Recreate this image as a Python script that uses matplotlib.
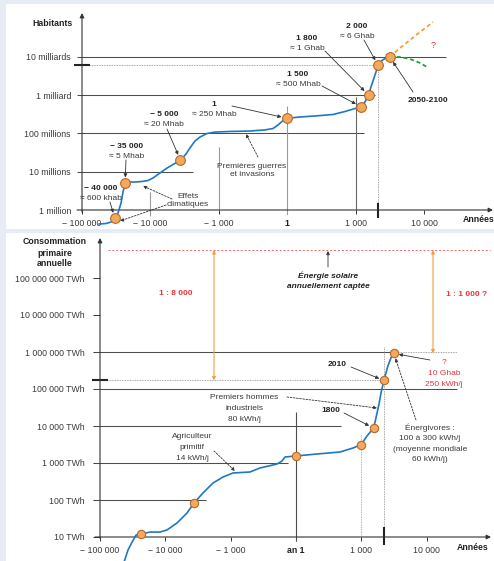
import numpy as np
import matplotlib
matplotlib.use("Agg")
import matplotlib.pyplot as plt
from matplotlib import transforms as mtransforms
from matplotlib.ticker import NullLocator

plt.rcParams["font.family"] = ["Liberation Sans", "DejaVu Sans"]

# ---------------------------------------------------------------- data
# population (inhabitants)
POP_MARK_YEARS = [-40000, -35000, -5000, 1, 1500, 1800, 2000, 2100]
POP_MARK_VALUES = [6e5, 5e6, 2e7, 2.5e8, 5e8, 1e9, 6e9, 1e10]

POP_CURVE_YEARS = [-62000, -51000, -44500, -40000, -38370, -36900, -35950, -35000,
                   -28800, -21400, -15200, -11300, -9420, -8020, -6820, -5810, -5000,
                   -3970, -3360, -2720, -2200, -1640, -1175, -836, -544, -325, -207,
                   -134, -76, 1, 3.6, 16.6, 102, 343, 942, 1500, 1648, 1800, 1847,
                   1910, 2000, 2032, 2066, 2100]
POP_CURVE_VALUES = [4.3e5, 4.44e5, 4.85e5, 6e5, 8.4e5, 1.52e6, 2.96e6, 5e6,
                    5.4e6, 5.4e6, 5.56e6, 5.9e6, 6.87e6, 9.27e6, 1.25e7, 1.6e7, 2e7,
                    2.91e7, 4.18e7, 6.37e7, 8.1e7, 1.0e8, 1.09e8, 1.13e8, 1.16e8, 1.24e8, 1.35e8,
                    1.67e8, 2.06e8, 2.5e8, 2.7e8, 2.87e8, 3.14e8, 3.76e8, 4.5e8, 5e8, 6.67e8, 1e9, 1.64e9,
                    2.83e9, 6e9, 8.1e9, 9.4e9, 1e10]

HIGH_YEARS = [2100, 3340, 5270, 8330, 13550]
HIGH_VALUES = [1e10, 1.72e10, 2.78e10, 4.5e10, 8.2e10]
LOW_YEARS = [2100, 3340, 5270, 8330, 11070]
LOW_VALUES = [1e10, 1e10, 8.9e9, 6.97e9, 5.48e9]

POP_NOW_YEAR = 2000
POP_NOW = 6e9

# primary energy consumption (TWh per year)
FUTURE_PEOPLE = 10e9
FUTURE_KWH_PER_DAY = 250
FUTURE_TWH = FUTURE_PEOPLE * FUTURE_KWH_PER_DAY * 365 / 1e9

NRJ_MARK_YEARS = [-35000, -5000, 1, 1000, 1800, 2010, 2100]
NRJ_MARK_VALUES = [12, 83, 1550, 3160, 8830, 1.7e5, FUTURE_TWH]

NRJ_CURVE_YEARS = [-49500, -44000, -39600, -37500, -35000, -22100, -13150, -9600, -7540,
                   -5920, -5000, -3370, -2170, -1400, -963, -703, -550, -288, -212, -166,
                   1, 9.3, 106, 419, 1000, 1522, 1800, 1849, 1916, 1960, 2010, 2046, 2073, 2100]
NRJ_CURVE_VALUES = [2.1, 4.5, 7.3, 11.3, 12, 13.6, 13.6, 15.5, 23.9,
                    44.6, 83, 155, 288, 418, 537, 571, 733, 940, 1133, 1452,
                    1550, 1750, 1982, 2540, 3160, 5370, 8830, 16400, 39300, 78000, 1.7e5, 4.19e5, 6.89e5, FUTURE_TWH]

NRJ_NOW_YEAR = 2010
NRJ_NOW = 1.7e5
SOLAR_TWH = 5.7e8

YEAR_TICKS = [-100000, -10000, -1000, 1, 1000, 10000]
TOP_YEAR_LABELS = ["\u2212 100 000", "\u2212 10 000", "\u2212 1 000", "1", "1 000", "10 000"]
BOT_YEAR_LABELS = ["\u2212 100 000", "\u2212 10 000", "\u2212 1 000", "an 1", "1 000", "10 000"]
POP_TICKS = [1e6, 1e7, 1e8, 1e9, 1e10]
POP_LABELS = ["1 million", "10 millions", "100 millions", "1 milliard", "10 milliards"]
NRJ_TICKS = [1e1, 1e2, 1e3, 1e4, 1e5, 1e6, 1e7, 1e8]
NRJ_LABELS = ["10 TWh", "100 TWh", "1 000 TWh", "10 000 TWh", "100 000 TWh",
              "1 000 000 TWh", "10 000 000 TWh", "100 000 000 TWh"]

# ---------------------------------------------------------------- hand-drawn time axis
SCALE_YEARS = np.array([-1e7, -100000, -40000, -35000, -10000, -5000, -1000,
                        1, 1000, 1500, 1800, 2000, 2100, 10000, 1e6])
SCALE_POS = np.array([-2, 0, 0.48, 0.63, 1, 1.44, 2, 3, 4, 4.08, 4.19, 4.33, 4.5, 5, 7])


def _year_to_u(y):
    y = np.asarray(y, dtype=float)
    u_neg = -np.log10(-np.minimum(y, -1000.0))
    u_mid = -3.0 + 3.0 * (y + 1000.0) / 1001.0
    u_pos = np.log10(np.maximum(y, 1.0))
    return np.where(y <= -1000, u_neg, np.where(y >= 1, u_pos, u_mid))


def _u_to_year(u):
    u = np.asarray(u, dtype=float)
    y_neg = -10 ** (-np.minimum(u, -3.0))
    y_mid = (u + 3.0) * 1001.0 / 3.0 - 1000.0
    y_pos = 10 ** np.maximum(u, 0.0)
    return np.where(u <= -3, y_neg, np.where(u >= 0, y_pos, y_mid))


SCALE_U = _year_to_u(SCALE_YEARS)


def year_fwd(y):
    return np.interp(_year_to_u(y), SCALE_U, SCALE_POS)


def year_inv(p):
    return _u_to_year(np.interp(np.asarray(p, dtype=float), SCALE_POS, SCALE_U))


# ---------------------------------------------------------------- figure
W, H, DPI = 494, 561, 100
fig = plt.figure(figsize=(W / DPI, H / DPI), dpi=DPI, facecolor="#e7ebf3")
PX = mtransforms.Affine2D().scale(1 / W, -1 / H).translate(0, 1) + fig.transFigure

FS = 6.3
FA = 6.0
TXT = "#3a3a3a"
DARK = "#222222"
GRID = "#4d4d4d"
LGRAY = "#9a9a9a"
BLUE = "#1f78c1"
ORANGE = "#f2a13a"
RED = "#e8343c"
GREEN = "#1f9e4a"
MFACE = "#f3a85c"
MEDGE = "#b5692a"


def panel(x0, y0, x1, y1, pos_lim, log_lim):
    ax = fig.add_axes([x0 / W, 1 - y1 / H, (x1 - x0) / W, (y1 - y0) / H])
    ax.set_facecolor("white")
    ax.set_xscale("function", functions=(year_fwd, year_inv))
    ax.set_yscale("log")
    ax.set_xlim(float(year_inv(pos_lim[0])), float(year_inv(pos_lim[1])))
    ax.set_ylim(10 ** log_lim[0], 10 ** log_lim[1])
    ax.autoscale(False)
    for s in ax.spines.values():
        s.set_visible(False)
    ax.xaxis.set_minor_locator(NullLocator())
    ax.yaxis.set_minor_locator(NullLocator())
    return ax


def xpx(ax, year):
    return ax.transData.transform((year, 1.0))[0]


def ypx(ax, val):
    return H - ax.transData.transform((1.0, val))[1]


def seg(ax, x0, y0, x1, y1, **kw):
    kw.setdefault("color", GRID)
    kw.setdefault("lw", 0.75)
    ax.plot([x0, x1], [y0, y1], transform=PX, clip_on=False, solid_capstyle="butt", **kw)


def text(x, y, s, size=FA, weight="normal", color=TXT, style="normal", ha="center"):
    fig.text(x, y, s, transform=PX, ha=ha, va="center_baseline", fontsize=size,
             fontweight=weight, color=color, fontstyle=style)


def pointer(ax, xy, start, coords="data", dashed=False, color="#333333", shrink=4.2):
    ax.annotate("", xy=xy, xycoords=coords, xytext=start, textcoords=PX,
                annotation_clip=False,
                arrowprops=dict(arrowstyle="-|>", color=color, lw=0.6, mutation_scale=5,
                                shrinkA=0, shrinkB=shrink,
                                linestyle=(0, (2.2, 1.6)) if dashed else "-"))


def axis_arrow(ax, p0, p1, color="#333333"):
    ax.annotate("", xy=p1, xycoords=PX, xytext=p0, textcoords=PX, annotation_clip=False,
                arrowprops=dict(arrowstyle="-|>", color=color, lw=0.8, mutation_scale=6.5,
                                shrinkA=0, shrinkB=0))


# ================================================================ population panel
ax1 = panel(6, 4, 494, 229, ((6 - 82) / 68.4, (494 - 82) / 68.4),
            (6 - 19 / 38.25, 6 + 206 / 38.25))

ax1.spines["bottom"].set_position(("data", 1e6))
ax1.spines["left"].set_position(("data", -100000))
ax1.set_xticks(YEAR_TICKS, TOP_YEAR_LABELS)
ax1.set_yticks(POP_TICKS, POP_LABELS)
ax1.tick_params(axis="x", length=3, width=0.7, color="#333333", pad=3.4,
                labelsize=FS, labelcolor=TXT)
ax1.tick_params(axis="y", length=0, pad=8, labelsize=FS, labelcolor=TXT)
for lab in ax1.get_xticklabels():
    if lab.get_text() == "1":
        lab.set_fontweight("bold")
        lab.set_color(DARK)

x_axis1 = xpx(ax1, -100000)
y_axis1 = ypx(ax1, 1e6)

# horizontal reference lines
for val, right in zip(POP_TICKS[1:], [193, 364, 375, 446]):
    y = ypx(ax1, val)
    seg(ax1, x_axis1 - 5, y, right, y)

# vertical guides
for yr, top, bot, col in [(-10000, 192, 216, LGRAY), (-1000, 147, y_axis1, LGRAY),
                          (1, 106, 214, LGRAY), (1000, 97, y_axis1, "#6a6a6a")]:
    x = xpx(ax1, yr)
    seg(ax1, x, top, x, bot, color=col, lw=0.8)

# present-day markers
y_now = ypx(ax1, POP_NOW)
x_now = xpx(ax1, POP_NOW_YEAR)
seg(ax1, x_axis1 + 8, y_now, x_now, y_now, color="#8a8a8a", lw=0.6, linestyle=(0, (1, 1)))
seg(ax1, x_now, y_now, x_now, y_axis1, color="#8a8a8a", lw=0.6, linestyle=(0, (1, 1)))
seg(ax1, x_axis1 - 8, y_now, x_axis1 + 8, y_now, color="#222222", lw=1.5)
seg(ax1, x_now, y_axis1 - 7, x_now, y_axis1 + 8, color="#222222", lw=1.5)

axis_arrow(ax1, (x_axis1, y_axis1 + 2), (x_axis1, 13))
axis_arrow(ax1, (x_axis1 - 5, y_axis1), (493, y_axis1))

# curve, projections, points
ax1.plot(HIGH_YEARS, HIGH_VALUES, color=ORANGE, lw=1.3, linestyle=(0, (2.2, 1.6)), zorder=3)
ax1.plot(LOW_YEARS, LOW_VALUES, color=GREEN, lw=1.3, linestyle=(0, (2.2, 1.6)), zorder=3)
ax1.plot(POP_CURVE_YEARS, POP_CURVE_VALUES, color=BLUE, lw=1.2, zorder=4,
         solid_joinstyle="round", clip_on=False)
ax1.plot(POP_MARK_YEARS, POP_MARK_VALUES, "o", ms=7, mfc=MFACE, mec=MEDGE, mew=0.8,
         zorder=5, clip_on=False)

# labels
text(52, 22, "Habitants", size=FS, weight="bold", color=DARK)
text(479, 218, "Années", size=FS, weight="bold", color=DARK)
text(433, 45, "?", size=FA + 0.5, color=RED)

labels_top = [
    ("2 000", "\u2248 6 Ghab", 357, 25, 2000, 6e9, (364, 40)),
    ("1 800", "\u2248 1 Ghab", 307, 37, 1800, 1e9, (325, 51)),
    ("1 500", "\u2248 500 Mhab", 298, 74, 1500, 5e8, (322, 86)),
    ("1", "\u2248 250 Mhab", 214, 104, 1, 2.5e8, (232, 106)),
    ("\u2212 5 000", "\u2248 20 Mhab", 164, 114, -5000, 2e7, (167, 129)),
    ("\u2212 35 000", "\u2248 5 Mhab", 127, 146, -35000, 5e6, (126, 160)),
    ("\u2212 40 000", "\u2248 600 khab", 101, 187, -40000, 6e5, (110, 202)),
]
for head, sub, tx, ty, yr, val, start in labels_top:
    text(tx, ty, head, weight="bold", color=DARK)
    text(tx, ty + 10, sub)
    pointer(ax1, (yr, val), start)

text(428, 100, "2050-2100", weight="bold", color=DARK)
pointer(ax1, (2100, 1e10), (413, 92))

text(188, 195, "Effets")
text(188, 204, "climatiques")
pointer(ax1, (143, 186), (172, 199), coords=PX, dashed=True, shrink=0)
pointer(ax1, (120, 221), (166, 205), coords=PX, dashed=True, shrink=0)

text(252, 165, "Premières guerres")
text(252, 174, "et invasions")
pointer(ax1, (246, 134), (258, 157), coords=PX, dashed=True, shrink=0)

# ================================================================ energy panel
ax2 = panel(6, 233, 494, 561, ((6 - 100) / 65.3, (494 - 100) / 65.3),
            (1 - 24 / 37, 1 + 304 / 37))

ax2.spines["bottom"].set_position(("data", 10))
ax2.spines["left"].set_position(("data", -100000))
ax2.set_xticks(YEAR_TICKS, BOT_YEAR_LABELS)
ax2.set_yticks(NRJ_TICKS, NRJ_LABELS)
ax2.tick_params(axis="x", length=3, width=0.7, color="#333333", pad=3.4,
                labelsize=FS, labelcolor=TXT)
ax2.tick_params(axis="y", length=5, width=0.7, color="#333333", pad=6,
                labelsize=FS, labelcolor=TXT)
for lab in ax2.get_xticklabels():
    if lab.get_text() == "an 1":
        lab.set_fontweight("bold")
        lab.set_color(DARK)

x_axis2 = xpx(ax2, -100000)
y_axis2 = ypx(ax2, 10)

x_future = xpx(ax2, 2100)
for val, right in zip(NRJ_TICKS[1:6], [206, 288, 341, 457, x_future]):
    y = ypx(ax2, val)
    seg(ax2, x_axis2 - 5, y, right, y)
y_1e6 = ypx(ax2, 1e6)
seg(ax2, x_future, y_1e6, 457, y_1e6, color="#8a8a8a", lw=0.6, linestyle=(0, (1, 1)))

# vertical guides
x_an1 = xpx(ax2, 1)
seg(ax2, x_an1, 412, x_an1, y_axis2 + 4, lw=0.8)
x_1000 = xpx(ax2, 1000)
seg(ax2, x_1000, 435, x_1000, y_axis2, color=LGRAY, lw=0.6, linestyle=(0, (1, 1)))

# present-day markers
y_now2 = ypx(ax2, NRJ_NOW)
x_now2 = xpx(ax2, NRJ_NOW_YEAR)
seg(ax2, x_axis2 + 8, y_now2, x_now2, y_now2, color="#8a8a8a", lw=0.6, linestyle=(0, (1, 1)))
seg(ax2, x_now2, 347, x_now2, y_axis2, color="#8a8a8a", lw=0.6, linestyle=(0, (1, 1)))
seg(ax2, x_axis2 - 8, y_now2, x_axis2 + 8, y_now2, color="#222222", lw=1.5)
seg(ax2, x_now2, y_axis2 - 10, x_now2, y_axis2 + 8, color="#222222", lw=1.5)

axis_arrow(ax2, (x_axis2, y_axis2 + 1), (x_axis2, 238))
axis_arrow(ax2, (x_axis2 - 5, y_axis2), (491, y_axis2))

# solar energy level and ratios
y_sun = ypx(ax2, SOLAR_TWH)
seg(ax2, x_axis2 + 8, y_sun, 490, y_sun, color="#f0686c", lw=0.7, linestyle=(0, (2, 2)))
for xa, low in [(214, NRJ_NOW), (433, FUTURE_TWH)]:
    ax2.annotate("", xy=(xa, ypx(ax2, low)), xycoords=PX, xytext=(xa, y_sun), textcoords=PX,
                 annotation_clip=False,
                 arrowprops=dict(arrowstyle="<|-|>", color=ORANGE, lw=0.8, mutation_scale=5,
                                 shrinkA=0, shrinkB=0))
text(176, 293, "1 : 8 000", weight="bold", color=RED)
text(467, 294, "1 : 1 000 ?", weight="bold", color=RED)
text(328, 275, "Énergie solaire", weight="bold", style="italic", color=DARK)
text(328, 286, "annuellement captée", weight="bold", style="italic", color=DARK)
pointer(ax2, (328, y_sun + 1), (328, 267), coords=PX, shrink=0)

# curve and points
ax2.plot(NRJ_CURVE_YEARS, NRJ_CURVE_VALUES, color=BLUE, lw=1.2, zorder=4,
         solid_joinstyle="round")
ax2.plot(NRJ_MARK_YEARS, NRJ_MARK_VALUES, "o", ms=6, mfc=MFACE, mec=MEDGE, mew=0.8,
         zorder=5, clip_on=False)

# labels
text(55, 241, "Consommation", size=FS, weight="bold", color=DARK)
text(55, 252, "primaire", size=FS, weight="bold", color=DARK)
text(55, 263, "annuelle", size=FS, weight="bold", color=DARK)
text(473, 547, "Années", size=FS, weight="bold", color=DARK)

text(337, 364, "2010", weight="bold", color=DARK)
pointer(ax2, (NRJ_NOW_YEAR, NRJ_NOW), (351, 367), shrink=3.6)

text(444, 362, "?", color=RED)
text(444, 373, "10 Ghab", color=RED)
text(444, 384, "250 kWh/j", color=RED)
pointer(ax2, (2100, FUTURE_TWH), (430, 360), shrink=3.6)

for i, s in enumerate(["Énergivores :", "100 à 300 kWh/j", "(moyenne mondiale", "60 kWh/j)"]):
    text(430, 427 + 10.6 * i, s)
pointer(ax2, (2100, FUTURE_TWH), (416, 420), dashed=True, shrink=3.6)

text(331, 410, "1800", weight="bold", color=DARK)
pointer(ax2, (1800, 8830), (344, 413), shrink=3.6)

for i, s in enumerate(["Premiers hommes", "industriels", "80 kWh/j"]):
    text(244, 397 + 11 * i, s)
pointer(ax2, (377, 408), (287, 397), coords=PX, dashed=True, shrink=0)

for i, s in enumerate(["Agriculteur", "primitif", "14 kWh/j"]):
    text(192, 436 + 11 * i, s)
pointer(ax2, (235, 471), (214, 451), coords=PX, dashed=True, shrink=0)

fig.savefig("out.png", dpi=DPI, facecolor=fig.get_facecolor())
